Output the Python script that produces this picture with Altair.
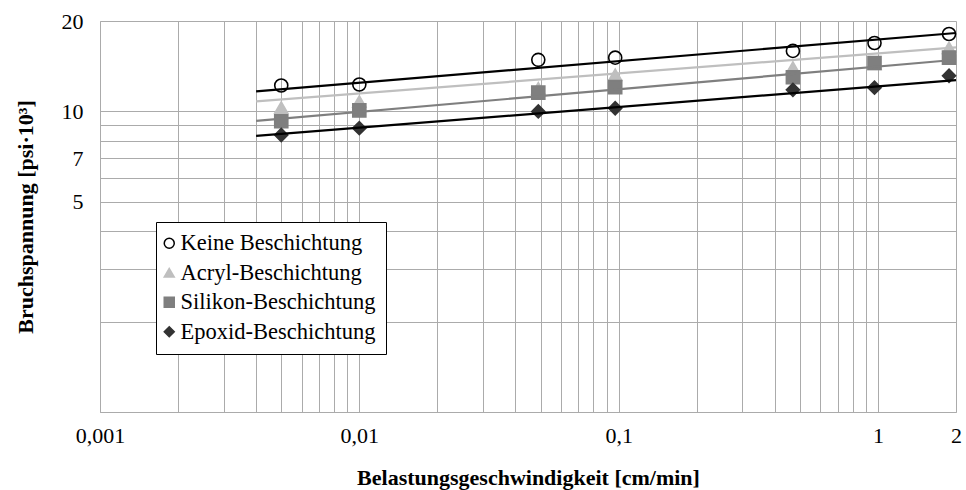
import altair as alt
import pandas as pd

# ---- data ----
series_names = ["Keine Beschichtung", "Acryl-Beschichtung",
                "Silikon-Beschichtung", "Epoxid-Beschichtung"]
speeds = [0.005, 0.01, 0.049, 0.097, 0.47, 0.97, 1.88]
keine = [12.2, 12.3, 14.85, 15.1, 15.9, 16.9, 18.1]
acryl = [10.3, 10.8, 11.95, 13.25, 14.0, 14.4, 16.3]
silikon = [9.28, 10.08, 11.55, 12.05, 13.0, 14.5, 15.1]
epoxid = [8.35, 8.8, 10.0, 10.25, 11.8, 12.0, 13.15]

trend_speeds = [0.004, 2]
trend_keine = [11.67, 18.24]
trend_acryl = [10.80, 16.34]
trend_silikon = [9.30, 14.86]
trend_epoxid = [8.29, 12.72]

x_grid = [0.001, 0.002, 0.003, 0.004, 0.005, 0.006, 0.007, 0.008, 0.009,
          0.01, 0.02, 0.03, 0.04, 0.05, 0.06, 0.07, 0.08, 0.09,
          0.1, 0.2, 0.3, 0.4, 0.5, 0.6, 0.7, 0.8, 0.9, 1, 2]
y_grid = [1, 2, 3, 4, 5, 6, 7, 8, 9, 10, 20]

shapes = ["circle", "triangle-up", "square", "diamond"]
fills = ["transparent", "#bfbfbf", "#7f7f7f", "#333333"]
strokes = ["#000000", "#bfbfbf", "#7f7f7f", "#333333"]
line_colors = ["#000000", "#bfbfbf", "#7f7f7f", "#000000"]

# ---- tables ----
values = [keine, acryl, silikon, epoxid]
trends = [trend_keine, trend_acryl, trend_silikon, trend_epoxid]
rows = []
for i, (name, vals) in enumerate(zip(series_names, values)):
    for sx, v in zip(speeds, vals):
        rows.append({"series": name, "idx": i, "speed": sx, "stress": v})
points_df = pd.DataFrame(rows)
trows = []
for i, (name, vals) in enumerate(zip(series_names, trends)):
    for sx, v in zip(trend_speeds, vals):
        trows.append({"series": name, "idx": i, "speed": sx, "stress": v})
trend_df = pd.DataFrame(trows)

FONT = "Liberation Serif"
GRID = "#ababab"

x_label_expr = ("datum.value == 0.001 ? '0,001' : datum.value == 0.01 ? '0,01' : "
                "datum.value == 0.1 ? '0,1' : datum.value == 1 ? '1' : "
                "datum.value == 2 ? '2' : ''")
y_label_expr = ("datum.value == 5 ? '5' : datum.value == 7 ? '7' : "
                "datum.value == 10 ? '10' : datum.value == 20 ? '20' : ''")

x_enc = alt.X("speed:Q",
              scale=alt.Scale(type="log", domain=[0.001, 2], nice=False),
              axis=alt.Axis(values=x_grid, labelExpr=x_label_expr, ticks=False, tickSize=0,
                            grid=True, gridColor=GRID, gridWidth=1,
                            domainColor=GRID, domainWidth=1,
                            labelFont=FONT, labelFontSize=22, labelColor="#000000",
                            labelPadding=13, labelFlush=False, labelOverlap=False,
                            title="Belastungsgeschwindigkeit [cm/min]",
                            titleFont=FONT, titleFontSize=22, titleFontWeight="bold",
                            titleColor="#000000", titlePadding=21))
y_enc = alt.Y("stress:Q",
              scale=alt.Scale(type="log", domain=[1, 20], nice=False),
              axis=alt.Axis(values=y_grid, labelExpr=y_label_expr, ticks=False, tickSize=0,
                            grid=True, gridColor=GRID, gridWidth=1,
                            domainColor=GRID, domainWidth=1,
                            labelFont=FONT, labelFontSize=22, labelColor="#000000",
                            labelPadding=17, labelFlush=False, labelOverlap=False,
                            title="Bruchspannung  [psi·10³]",
                            titleFont=FONT, titleFontSize=22, titleFontWeight="bold",
                            titleColor="#000000", titlePadding=24))

legend = alt.Legend(title=None, orient="none", legendX=56, legendY=201,
                    labelFont=FONT, labelFontSize=22.5, labelColor="#000000",
                    strokeColor="#000000", fillColor="#ffffff", padding=10,
                    rowPadding=6.5, labelOffset=0, symbolOffset=-8, symbolSize=100,
                    symbolStrokeWidth=1.5, labelLimit=400)

points = alt.Chart(points_df).mark_point(filled=True, size=170, strokeWidth=1.6, opacity=1).encode(
    x=x_enc,
    y=y_enc,
    shape=alt.Shape("series:N", scale=alt.Scale(domain=series_names, range=shapes), legend=legend),
    fill=alt.Fill("series:N", scale=alt.Scale(domain=series_names, range=fills), legend=legend),
    stroke=alt.Stroke("series:N", scale=alt.Scale(domain=series_names, range=strokes), legend=legend),
    order=alt.Order("idx:Q"),
)

lines = alt.Chart(trend_df).mark_line(strokeWidth=2.2).encode(
    x=alt.X("speed:Q"),
    y=alt.Y("stress:Q"),
    color=alt.Color("series:N", scale=alt.Scale(domain=series_names, range=line_colors), legend=None),
    detail="series:N",
)

chart = alt.layer(points, lines).properties(
    width=856, height=391,
    autosize=alt.AutoSizeParams(type="none"),
    padding={"left": 100, "top": 21, "right": 10, "bottom": 78},
    background="#ffffff",
).configure_view(stroke=None)

chart.save("out.html", embed_options={"renderer": "svg", "actions": False})
